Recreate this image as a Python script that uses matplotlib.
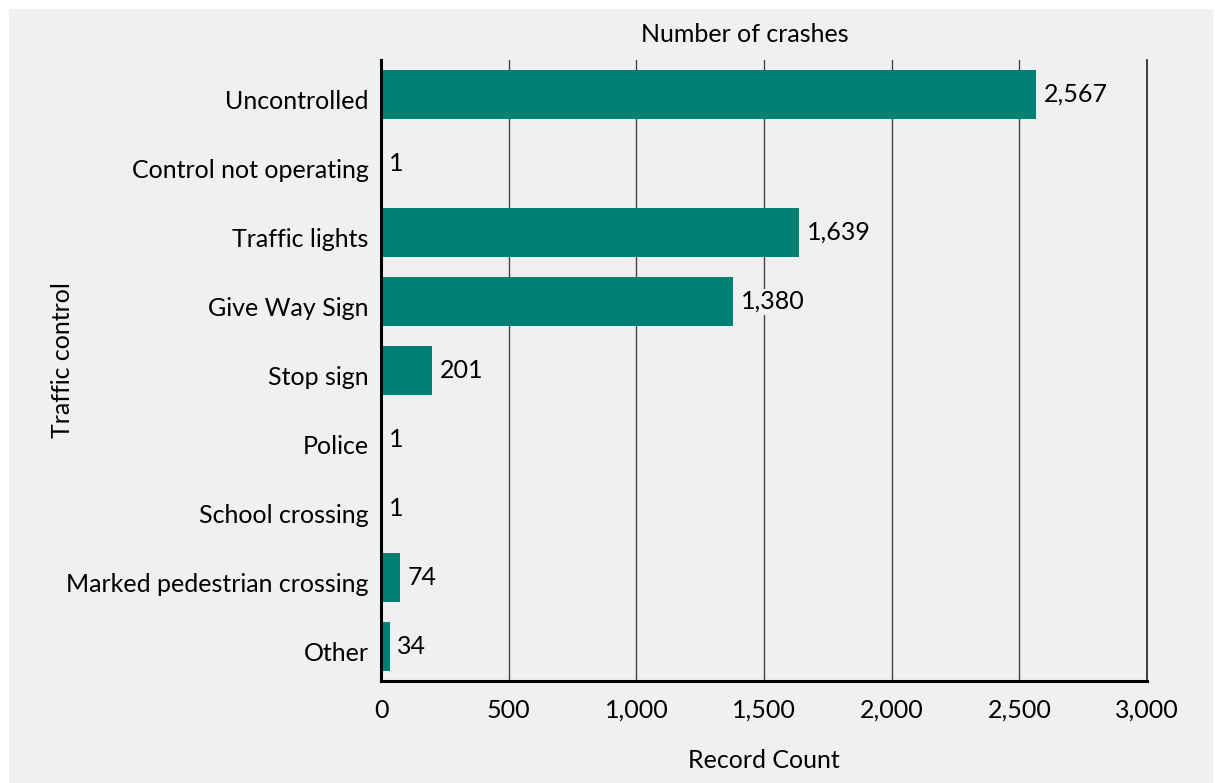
import matplotlib
matplotlib.use("Agg")
import matplotlib.pyplot as plt
import matplotlib.transforms as mtransforms
from matplotlib.patches import Rectangle
from matplotlib.ticker import FuncFormatter

categories = ["Uncontrolled", "Control not operating", "Traffic lights", "Give Way Sign",
              "Stop sign", "Police", "School crossing", "Marked pedestrian crossing", "Other"]
counts = [2567, 1, 1639, 1380, 201, 1, 1, 74, 34]
xticks = [0, 500, 1000, 1500, 2000, 2500, 3000]

plt.rcParams['font.family'] = ['Lato', 'DejaVu Sans']
bar_color = '#008075'
bg = '#f0f0f0'
fs = 18

fig = plt.figure(figsize=(12.15, 7.83), dpi=100)
fig.patch.set_facecolor('white')
fig.patches.append(Rectangle((9 / 1215, 0), 1204 / 1215, 774 / 783, transform=fig.transFigure,
                             facecolor=bg, edgecolor='none', zorder=-10))

W, H = 1215, 783
ax = fig.add_axes([381 / W, 1 - 681 / H, (1147 - 381) / W, (681 - 60) / H])
ax.set_facecolor(bg)

y = range(len(categories))
ax.barh(y, counts, height=0.71, color=bar_color, zorder=3)
for i, v in enumerate(counts):
    ax.text(v + 30, i, f"{v:,}", va='center', ha='left', fontsize=fs, color='black', zorder=5,
            bbox=dict(facecolor=bg, edgecolor='none', pad=1))

ax.set_xlim(0, 3000)
ax.set_ylim(len(categories) - 0.5, -0.5)
ax.set_yticks(list(y))
ax.set_yticklabels(categories, fontsize=fs)
ax.set_xticks(xticks)
ax.xaxis.set_major_formatter(FuncFormatter(lambda v, p: f"{int(v):,}"))
ax.tick_params(axis='x', labelsize=fs, length=0, pad=13)
ax.tick_params(axis='y', length=0, pad=9)

# category labels sit a little below the bar centres
shift = mtransforms.ScaledTranslation(0, -5 / 100, fig.dpi_scale_trans)
for lbl in ax.get_yticklabels():
    lbl.set_transform(lbl.get_transform() + shift)

ax.grid(axis='x', color='#444444', linewidth=1, zorder=0)
ax.spines['top'].set_visible(False)
ax.spines['right'].set_color('#222222')
ax.spines['right'].set_linewidth(1.2)
for s in ['left', 'bottom']:
    ax.spines[s].set_linewidth(2.2)
    ax.spines[s].set_color('black')
    ax.spines[s].set_zorder(4)

fig.text(745 / W, 1 - 35 / H, "Number of crashes", ha='center', va='center', fontsize=fs)
fig.text(764 / W, 1 - 760 / H, "Record Count", ha='center', va='center', fontsize=fs)
fig.text(62 / W, 1 - 360 / H, "Traffic control", ha='center', va='center', rotation=90, fontsize=fs)

fig.savefig("out.png", dpi=100, facecolor=fig.get_facecolor())
